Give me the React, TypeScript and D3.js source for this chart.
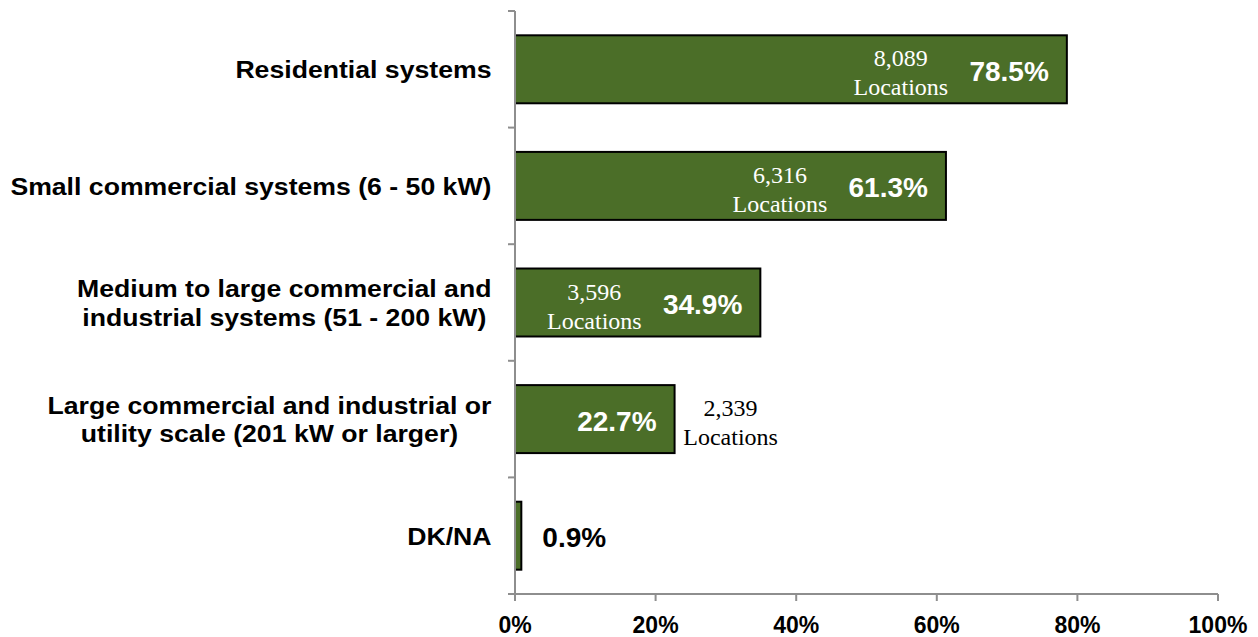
import React from "react";
import * as d3 from "d3";

const categories: string[][] = [
  ["Residential systems"],
  ["Small commercial systems (6 - 50 kW)"],
  ["Medium to large commercial and", "industrial systems (51 - 200 kW)"],
  ["Large commercial and industrial or", "utility scale (201 kW or larger)"],
  ["DK/NA"],
];
const shares: number[] = [78.5, 61.3, 34.9, 22.7, 0.9];
const locationCounts: (string | null)[] = ["8,089", "6,316", "3,596", "2,339", null];
const xTicks: number[] = [0, 20, 40, 60, 80, 100];

const W = 1258;
const H = 637;
const SANS = "'Liberation Sans', Arial, Helvetica, sans-serif";
const SERIF = "'Liberation Serif', 'Times New Roman', serif";
const GREEN = "#4b6e28";
const AXIS = "#8e8e8e";
const CAT_SIZE = 24;
const CAT_STRETCH = 1.11;

let measureCtx: CanvasRenderingContext2D | null = null;
function textWidth(s: string, font: string): number {
  if (!measureCtx) {
    const c = document.createElement("canvas");
    measureCtx = c.getContext("2d");
  }
  if (!measureCtx) return s.length * 12;
  measureCtx.font = font;
  return measureCtx.measureText(s).width;
}

export default function App() {
  const x = d3.scaleLinear().domain([0, 100]).range([515, 1218]);
  const idx = categories.map((_, i) => String(i));
  const y = d3.scaleBand().domain(idx).range([11, 594]).paddingInner(0.417).paddingOuter(0.2085);
  const step = y.step();
  const bounds = d3.range(categories.length + 1).map((k) => 11 + k * step);
  const labelRight = 491.5;
  const lineH = 28.5;

  return (
    <svg width={W} height={H} style={{ position: "absolute", left: 0, top: 0, background: "#fff" }}>
      {/* bars */}
      {shares.map((v, i) => (
        <rect
          key={"b" + i}
          x={x(0)}
          y={y(String(i))!}
          width={x(v) - x(0)}
          height={y.bandwidth()}
          fill={GREEN}
          stroke="#000"
          strokeWidth={2}
        />
      ))}

      {/* axes */}
      <line x1={x(0)} x2={x(0)} y1={bounds[0]} y2={bounds[bounds.length - 1]} stroke={AXIS} strokeWidth={2} />
      {bounds.map((b, k) => (
        <line key={"yt" + k} x1={x(0) - 7} x2={x(0)} y1={b} y2={b} stroke={AXIS} strokeWidth={2} />
      ))}
      <line x1={x(0) - 7} x2={x(100)} y1={594} y2={594} stroke={AXIS} strokeWidth={2} />
      {xTicks.map((t) => (
        <g key={"xt" + t}>
          <line x1={x(t)} x2={x(t)} y1={594} y2={601} stroke={AXIS} strokeWidth={2} />
          <text
            x={x(t)}
            y={633}
            textAnchor="middle"
            fontFamily={SANS}
            fontWeight="bold"
            fontSize={23}
            fill="#000"
          >
            {t + "%"}
          </text>
        </g>
      ))}

      {/* category labels */}
      <g transform={`translate(${labelRight},0) scale(${CAT_STRETCH},1)`}>
        {categories.map((lines, i) => {
          const cy = y(String(i))! + y.bandwidth() / 2;
          const font = `bold ${CAT_SIZE}px ${SANS}`;
          const maxW = Math.max(...lines.map((l) => textWidth(l, font)));
          const cx = -maxW / 2;
          const first = cy + 9 - ((lines.length - 1) * lineH) / 2;
          return (
            <text
              key={"c" + i}
              textAnchor="middle"
              fontFamily={SANS}
              fontWeight="bold"
              fontSize={CAT_SIZE}
              fill="#000"
            >
              {lines.map((l, k) => (
                <tspan key={k} x={cx} y={first + k * lineH}>
                  {l}
                </tspan>
              ))}
            </text>
          );
        })}
      </g>

      {/* value labels */}
      {shares.map((v, i) => {
        const cy = y(String(i))! + y.bandwidth() / 2;
        const end = x(v);
        const inside = v > 5;
        const loc = locationCounts[i];
        const locInside = v > 30;
        const locX = locInside ? end - 166 : end + 56;
        return (
          <g key={"v" + i}>
            <text
              x={inside ? end - 18 : end + 21}
              y={cy + 11.5}
              textAnchor={inside ? "end" : "start"}
              fontFamily={SANS}
              fontWeight="bold"
              fontSize={28}
              fill={inside ? "#fff" : "#000"}
            >
              {v.toFixed(1) + "%"}
            </text>
            {loc && (
              <text
                textAnchor="middle"
                fontFamily={SERIF}
                fontSize={24}
                fill={locInside ? "#fff" : "#000"}
              >
                <tspan x={locX} y={cy - 3}>
                  {loc}
                </tspan>
                <tspan x={locX} y={cy + 26}>
                  Locations
                </tspan>
              </text>
            )}
          </g>
        );
      })}
    </svg>
  );
}
